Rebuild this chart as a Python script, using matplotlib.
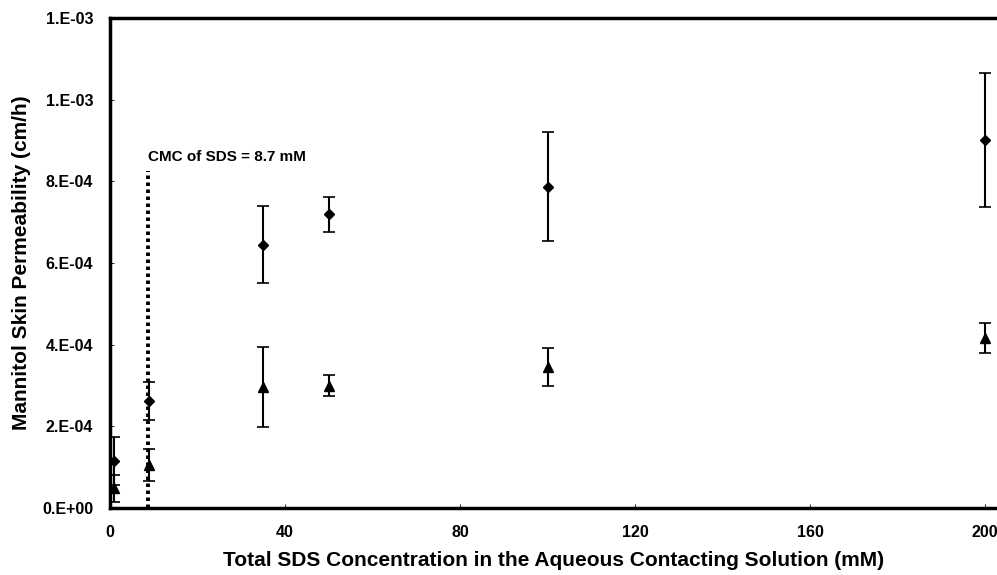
import numpy as np
import matplotlib.pyplot as plt

plt.rcParams['font.family'] = ['Liberation Sans', 'DejaVu Sans']
plt.rcParams['font.weight'] = 'bold'

# SDS concentration (mM)
conc = [1, 9, 35, 50, 100, 200]
# diamonds: upper series
perm_d = [1.15e-4, 2.62e-4, 6.45e-4, 7.19e-4, 7.87e-4, 9.02e-4]
err_d = [0.58e-4, 0.47e-4, 0.94e-4, 0.43e-4, 1.34e-4, 1.64e-4]
# triangles: lower series
perm_t = [0.48e-4, 1.05e-4, 2.96e-4, 3.00e-4, 3.45e-4, 4.16e-4]
err_t = [0.33e-4, 0.40e-4, 0.98e-4, 0.26e-4, 0.46e-4, 0.37e-4]

cmc = 8.7
yticks = [0, 2e-4, 4e-4, 6e-4, 8e-4, 1.0e-3, 1.2e-3]
ytick_labels = ['0.E+00', '2.E-04', '4.E-04', '6.E-04', '8.E-04', '1.E-03', '1.E-03']
xticks = [0, 40, 80, 120, 160, 200]

fig = plt.figure(figsize=(9.97, 5.75), dpi=100)
ax = fig.add_axes([0.1103, 0.1165, 0.8897, 0.8522])

ax.errorbar(conc, perm_d, yerr=err_d, fmt='D', color='black', ms=5,
            ecolor='black', elinewidth=1.5, capsize=4, capthick=1.2)
ax.errorbar(conc, perm_t, yerr=err_t, fmt='^', color='black', ms=7,
            ecolor='black', elinewidth=1.5, capsize=4, capthick=1.2)

# CMC marker line
ax.plot([cmc, cmc], [0, 8.26e-4], color='black', lw=2.8, linestyle=(0, (0.9, 0.9)))
ax.text(cmc, 8.6e-4, 'CMC of SDS = 8.7 mM', fontsize=11, fontweight='bold',
        va='center', ha='left')

ax.set_xlim(0, 202.7)
ax.set_ylim(0, 1.2e-3)
ax.set_xticks(xticks)
ax.set_yticks(yticks)
ax.set_yticklabels(ytick_labels)
ax.tick_params(axis='both', direction='in', length=3, width=0.6, labelsize=11.5)
ax.tick_params(axis='x', pad=12)
ax.tick_params(axis='y', pad=12)

for s in ['left', 'bottom', 'top']:
    ax.spines[s].set_linewidth(2.5)
ax.spines['right'].set_visible(False)

ax.set_xlabel('Total SDS Concentration in the Aqueous Contacting Solution (mM)',
              fontsize=15, fontweight='bold', labelpad=8)
ax.set_ylabel('Mannitol Skin Permeability (cm/h)', fontsize=15,
              fontweight='bold', labelpad=8)

fig.savefig('out.png', dpi=100)
